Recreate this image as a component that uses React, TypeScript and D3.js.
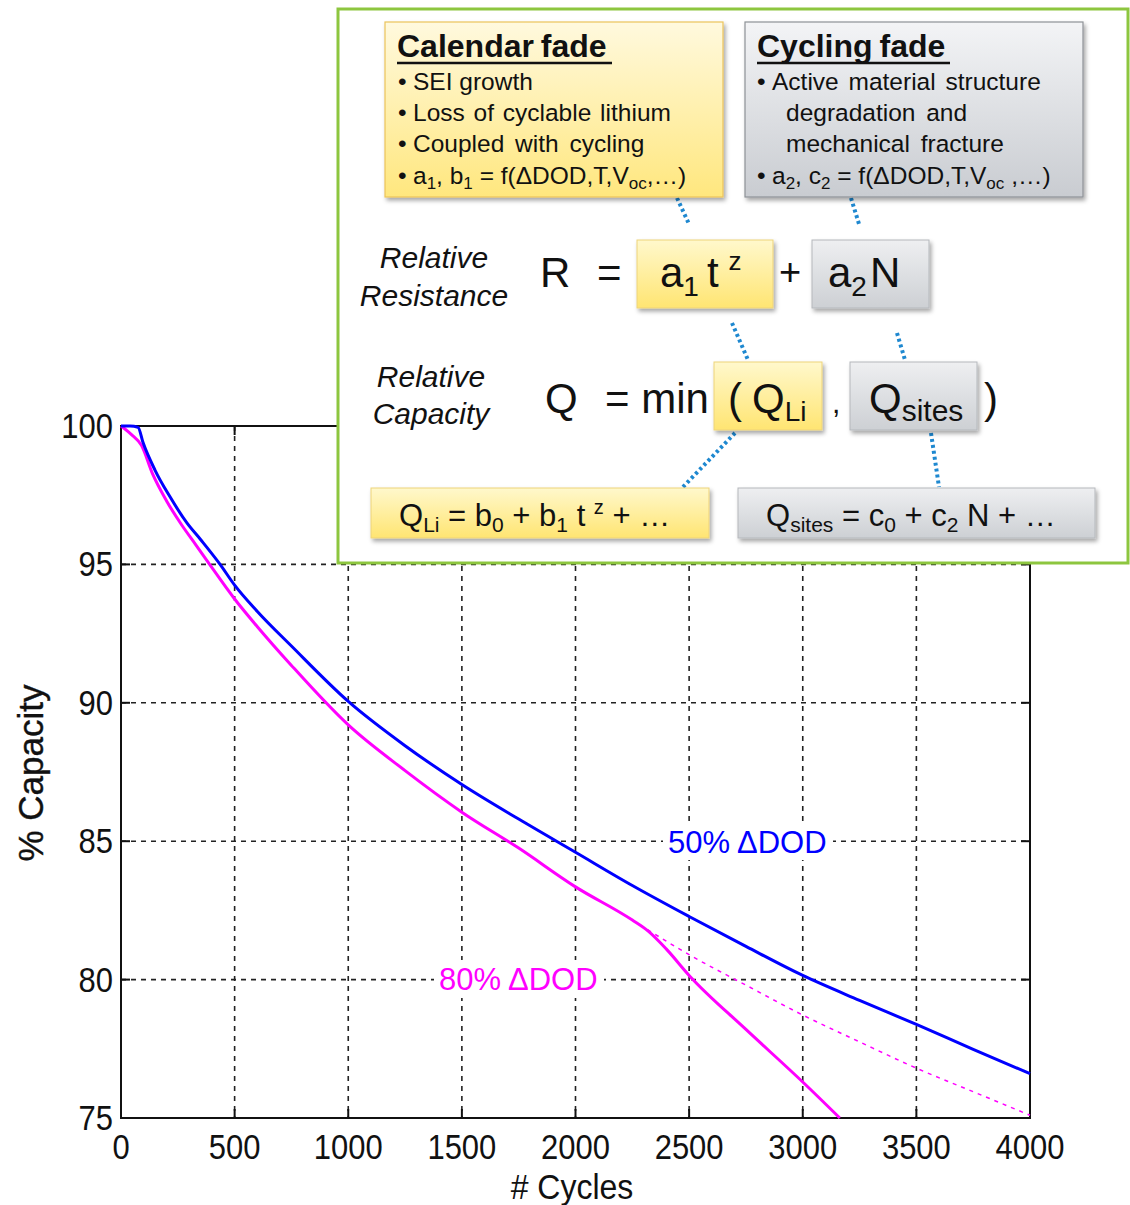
import React from 'react';
import * as d3 from 'd3';

// Axis ticks
const cycleTicks = [0, 500, 1000, 1500, 2000, 2500, 3000, 3500, 4000];
const capacityTicks = [75, 80, 85, 90, 95, 100];

// 50% ΔDOD measured capacity
const dod50Cycles = [0, 40, 75, 97, 150, 215, 290, 350, 436, 500, 600, 750, 1000, 1250, 1500, 1750, 2000, 2250, 2500, 2750, 3000, 3250, 3500, 3750, 4000];
const dod50Capacity = [100, 100, 99.95, 99.4, 98.4, 97.45, 96.5, 95.9, 95.0, 94.25, 93.3, 92.05, 90.05, 88.45, 87.05, 85.8, 84.6, 83.4, 82.28, 81.2, 80.15, 79.25, 78.38, 77.48, 76.6];

// 80% ΔDOD measured capacity
const dod80Cycles = [0, 45, 90, 140, 200, 265, 330, 390, 500, 600, 750, 1000, 1250, 1500, 1750, 2000, 2250, 2320, 2400, 2500, 2750, 3000, 3163];
const dod80Capacity = [100, 99.7, 99.3, 98.25, 97.3, 96.45, 95.7, 95.0, 93.75, 92.75, 91.35, 89.2, 87.55, 86.05, 84.75, 83.35, 82.15, 81.75, 81.1, 80.15, 78.2, 76.3, 75.0];

// 80% ΔDOD calendar-only continuation (dashed)
const dod80FitCycles = [2250, 2500, 2750, 3000, 3250, 3500, 3750, 4000];
const dod80FitCapacity = [82.15, 80.9, 79.8, 78.72, 77.75, 76.8, 75.95, 75.1];

const FONT = '"Liberation Sans", Arial, Helvetica, sans-serif';

const toPoints = (xs: number[], ys: number[]) => xs.map((c, i) => [c, ys[i]] as [number, number]);

export default function App() {
  const x = d3.scaleLinear().domain([0, 4000]).range([121, 1030]);
  const y = d3.scaleLinear().domain([75, 100]).range([1118, 426]);
  const line = d3
    .line<[number, number]>()
    .x((d) => x(d[0]))
    .y((d) => y(d[1]))
    .curve(d3.curveMonotoneX);

  const [x0, x1] = x.range();
  const [yb, yt] = y.range();

  const sub = (t: string, size: number, dy: number, key?: string) => (
    <tspan key={key} fontSize={size} dy={dy}>{t}</tspan>
  );

  return (
    <svg
      width={1130}
      height={1205}
      style={{ position: 'absolute', left: 0, top: 0, background: '#fff' }}
      fontFamily={FONT}
    >
      <defs>
        <linearGradient id="yellowBig" x1="0" y1="0" x2="0" y2="1">
          <stop offset="0%" stopColor="#FFF9DE" />
          <stop offset="100%" stopColor="#FFE77E" />
        </linearGradient>
        <linearGradient id="yellowSmall" x1="0" y1="0" x2="0" y2="1">
          <stop offset="0%" stopColor="#FFF8CC" />
          <stop offset="100%" stopColor="#FFE572" />
        </linearGradient>
        <linearGradient id="grayBig" x1="0" y1="0" x2="0" y2="1">
          <stop offset="0%" stopColor="#F3F4F6" />
          <stop offset="100%" stopColor="#C9CCD1" />
        </linearGradient>
        <linearGradient id="graySmall" x1="0" y1="0" x2="0" y2="1">
          <stop offset="0%" stopColor="#EEEFF1" />
          <stop offset="100%" stopColor="#CDD0D4" />
        </linearGradient>
        <filter id="shadow" x="-10%" y="-10%" width="130%" height="140%">
          <feDropShadow dx="2" dy="3" stdDeviation="2" floodColor="#000" floodOpacity="0.35" />
        </filter>
      </defs>

      {/* grid */}
      {cycleTicks.slice(1, -1).map((c) => (
        <line key={'gx' + c} x1={x(c)} x2={x(c)} y1={yt} y2={yb} stroke="#222" strokeWidth={1.6} strokeDasharray="5 5" />
      ))}
      {capacityTicks.slice(1, -1).map((v) => (
        <line key={'gy' + v} x1={x0} x2={x1} y1={y(v)} y2={y(v)} stroke="#222" strokeWidth={1.6} strokeDasharray="5 5" />
      ))}

      {/* tick marks */}
      {cycleTicks.map((c) => (
        <g key={'tx' + c}>
          <line x1={x(c)} x2={x(c)} y1={yb} y2={yb - 9} stroke="#111" strokeWidth={2} />
          <line x1={x(c)} x2={x(c)} y1={yt} y2={yt + 9} stroke="#111" strokeWidth={2} />
        </g>
      ))}
      {capacityTicks.map((v) => (
        <g key={'ty' + v}>
          <line x1={x0} x2={x0 + 9} y1={y(v)} y2={y(v)} stroke="#111" strokeWidth={2} />
          <line x1={x1} x2={x1 - 9} y1={y(v)} y2={y(v)} stroke="#111" strokeWidth={2} />
        </g>
      ))}

      {/* frame */}
      <rect x={x0} y={yt} width={x1 - x0} height={yb - yt} fill="none" stroke="#111" strokeWidth={2} />

      {/* series labels */}
      <rect x={663} y={822} width={170} height={38} fill="#fff" />
      <text x={668} y={853} fontSize={31} fill="#0000FF">50% ΔDOD</text>
      <rect x={434} y={960} width={170} height={38} fill="#fff" />
      <text x={439} y={990} fontSize={31} fill="#FF00FF">80% ΔDOD</text>

      {/* curves */}
      <path d={line(toPoints(dod80FitCycles, dod80FitCapacity)) || ''} fill="none" stroke="#FF00FF" strokeWidth={1.5} strokeDasharray="4 5" />
      <path d={line(toPoints(dod80Cycles, dod80Capacity)) || ''} fill="none" stroke="#FF00FF" strokeWidth={3} strokeLinejoin="round" />
      <path d={line(toPoints(dod50Cycles, dod50Capacity)) || ''} fill="none" stroke="#0000FF" strokeWidth={3} strokeLinejoin="round" />

      {/* tick labels */}
      {cycleTicks.map((c) => (
        <text key={'lx' + c} transform={`translate(${x(c)},${1159}) scale(1,1.12)`} textAnchor="middle" fontSize={31} fill="#111">
          {c}
        </text>
      ))}
      {capacityTicks.map((v) => (
        <text key={'ly' + v} transform={`translate(${113},${y(v) + 12}) scale(1,1.12)`} textAnchor="end" fontSize={31} fill="#111">
          {v}
        </text>
      ))}

      {/* axis titles */}
      <text transform={`translate(572,1199) scale(1,1.08)`} textAnchor="middle" fontSize={32} fill="#111">
        # Cycles
      </text>
      <text transform={`translate(43,773) rotate(-90)`} textAnchor="middle" fontSize={35} fill="#111" stroke="#111" strokeWidth={0.4}>
        % Capacity
      </text>

      {/* model inset */}
      <rect x={338} y={9} width={790} height={554} fill="#fff" stroke="#8DC63F" strokeWidth={3} />

      {/* connectors */}
      {[
        [677, 198, 689, 224],
        [851, 198, 859, 224],
        [732, 323, 748, 360],
        [897, 333, 905, 360],
        [735, 433, 683, 487],
        [931, 433, 939, 487],
      ].map((s, i) => (
        <line key={'c' + i} x1={s[0]} y1={s[1]} x2={s[2]} y2={s[3]} stroke="#1E88D0" strokeWidth={4} strokeDasharray="3 3" />
      ))}

      {/* Calendar fade */}
      <rect x={385} y={22} width={338} height={175} fill="url(#yellowBig)" stroke="#EBC45A" strokeWidth={1.2} filter="url(#shadow)" />
      <text x={397} y={57} fontSize={32} fontWeight="bold" fill="#111" wordSpacing={-2}>Calendar fade</text>
      <line x1={397} x2={612} y1={63} y2={63} stroke="#111" strokeWidth={2.5} />
      <g fontSize={24.5} fill="#111">
        <text x={398} y={90}>•</text>
        <text x={413} y={90}>SEI growth</text>
        <text x={398} y={121}>•</text>
        <text x={413} y={121} wordSpacing={2}>Loss of cyclable lithium</text>
        <text x={398} y={152}>•</text>
        <text x={413} y={152} wordSpacing={4}>Coupled with cycling</text>
        <text x={398} y={184}>•</text>
        <text x={413} y={184}>
          a{sub('1', 17, 5)}<tspan dy={-5}>, b</tspan>{sub('1', 17, 5)}<tspan dy={-5}> = f(ΔDOD,T,V</tspan>{sub('oc', 17, 5)}<tspan dy={-5}>,…)</tspan>
        </text>
      </g>

      {/* Cycling fade */}
      <rect x={745} y={22} width={338} height={175} fill="url(#grayBig)" stroke="#8E9297" strokeWidth={1.2} filter="url(#shadow)" />
      <text x={757} y={57} fontSize={32} fontWeight="bold" fill="#111" wordSpacing={-2}>Cycling fade</text>
      <line x1={757} x2={950} y1={63} y2={63} stroke="#111" strokeWidth={2.5} />
      <g fontSize={24.5} fill="#111">
        <text x={757} y={90}>•</text>
        <text x={772} y={90} wordSpacing={3}>Active material structure</text>
        <text x={786} y={121} wordSpacing={4}>degradation and</text>
        <text x={786} y={152} wordSpacing={4}>mechanical fracture</text>
        <text x={757} y={184}>•</text>
        <text x={772} y={184}>
          a{sub('2', 17, 5)}<tspan dy={-5}>, c</tspan>{sub('2', 17, 5)}<tspan dy={-5}> = f(ΔDOD,T,V</tspan>{sub('oc', 17, 5)}<tspan dy={-5}>  ,…)</tspan>
        </text>
      </g>

      {/* row labels */}
      <g fontSize={30} fontStyle="italic" fill="#111" textAnchor="middle">
        <text x={434} y={268}>Relative</text>
        <text x={434} y={306}>Resistance</text>
        <text x={431} y={387}>Relative</text>
        <text x={431} y={424}>Capacity</text>
      </g>

      {/* Relative Resistance row */}
      <g fontSize={42} fill="#111">
        <text x={540} y={287}>R</text>
        <text x={597} y={287}>=</text>
      </g>
      <rect x={637} y={240} width={136} height={68} fill="url(#yellowSmall)" stroke="#EED37A" strokeWidth={1} filter="url(#shadow)" />
      <text x={660} y={287} fontSize={42} fill="#111">
        a<tspan fontSize={28} dy={9}>1</tspan>
        <tspan dx={8} dy={-9}>t</tspan>
        <tspan fontSize={26} dx={10} dy={-17}>z</tspan>
      </text>
      <text x={779} y={285} fontSize={38} fill="#111">+</text>
      <rect x={812} y={240} width={117} height={68} fill="url(#graySmall)" stroke="#B5B8BC" strokeWidth={1} filter="url(#shadow)" />
      <text x={828} y={287} fontSize={42} fill="#111">
        a<tspan fontSize={28} dy={9}>2</tspan>
        <tspan dx={3} dy={-9}>N</tspan>
      </text>

      {/* Relative Capacity row */}
      <g fontSize={42} fill="#111">
        <text x={545} y={413}>Q</text>
        <text x={605} y={413}>= min</text>
      </g>
      <rect x={714} y={362} width={108} height={68} fill="url(#yellowSmall)" stroke="#EED37A" strokeWidth={1} filter="url(#shadow)" />
      <text x={728} y={413} fontSize={42} fill="#111">
        (<tspan dx={10}>Q</tspan>
        <tspan fontSize={28} dy={8}>Li</tspan>
      </text>
      <text x={832} y={413} fontSize={30} fill="#111">,</text>
      <rect x={850} y={362} width={127} height={68} fill="url(#graySmall)" stroke="#B5B8BC" strokeWidth={1} filter="url(#shadow)" />
      <text x={869} y={413} fontSize={42} fill="#111">
        Q<tspan fontSize={30} dy={8}>sites</tspan>
      </text>
      <text x={984} y={413} fontSize={42} fill="#111">)</text>

      {/* bottom sub-models */}
      <rect x={371} y={488} width={338} height={50} fill="url(#yellowSmall)" stroke="#EED37A" strokeWidth={1} filter="url(#shadow)" />
      <text x={399} y={526} fontSize={31} fill="#111">
        Q{sub('Li', 21, 6)}<tspan dy={-6}> = b</tspan>{sub('0', 21, 6)}<tspan dy={-6}> + b</tspan>{sub('1', 21, 6)}
        <tspan dy={-6}> t </tspan>{sub('z', 20, -12)}<tspan dy={12}> + …</tspan>
      </text>
      <rect x={738} y={488} width={357} height={50} fill="url(#graySmall)" stroke="#B5B8BC" strokeWidth={1} filter="url(#shadow)" />
      <text x={766} y={526} fontSize={31} fill="#111">
        Q{sub('sites', 21, 6)}<tspan dy={-6}> = c</tspan>{sub('0', 21, 6)}<tspan dy={-6}> + c</tspan>{sub('2', 21, 6)}
        <tspan dy={-6}> N + …</tspan>
      </text>
    </svg>
  );
}
